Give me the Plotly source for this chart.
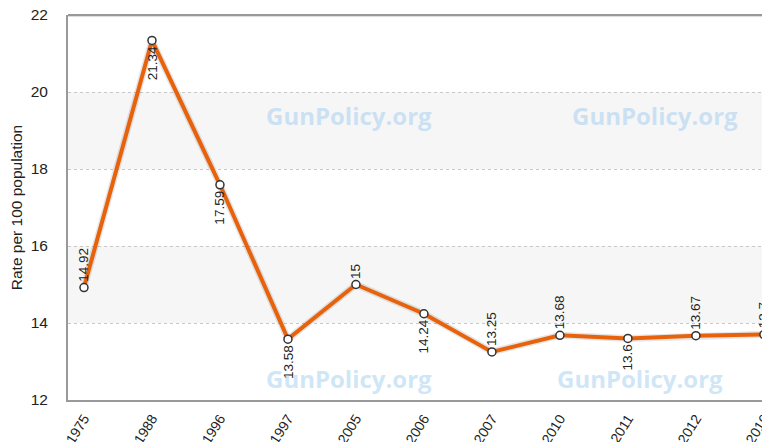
import plotly.graph_objects as go

years = ["1975", "1988", "1996", "1997", "2005", "2006", "2007", "2010", "2011", "2012", "2016"]
rates = [14.92, 21.34, 17.59, 13.58, 15, 14.24, 13.25, 13.68, 13.6, 13.67, 13.7]
label_text = ["14.92", "21.34", "17.59", "13.58", "15", "14.24", "13.25", "13.68", "13.6", "13.67", "13.7"]
label_up = [True, False, False, False, True, False, True, True, False, True, True]

FONT = "Liberation Sans, Arial, sans-serif"
LABEL_SIZE = 13.5


def text_len(s, size):
    # approximate advance width for Arial/Liberation Sans digits
    return sum((0.278 if c == "." else 0.556) for c in s) * size


fig = go.Figure()

# soft shadow under the line
fig.add_trace(go.Scatter(
    x=years, y=rates, mode="lines",
    line=dict(color="rgba(0,0,0,0.10)", width=7),
    hoverinfo="skip", showlegend=False,
))
fig.add_trace(go.Scatter(
    x=years, y=rates, mode="lines+markers",
    line=dict(color="#E8620C", width=4),
    marker=dict(size=8, color="white", line=dict(color="#333333", width=1.5)),
    showlegend=False,
))

annotations = []
for i, (v, t, up) in enumerate(zip(rates, label_text, label_up)):
    off = text_len(t, LABEL_SIZE) / 2 + 6
    annotations.append(dict(
        x=i, y=v, xref="x", yref="y", text=t, showarrow=False,
        textangle=-90, font=dict(family=FONT, size=LABEL_SIZE, color="#222222"),
        xanchor="center", yanchor="middle",
        yshift=off if up else -off,
    ))

wm = dict(family="Open Sans, sans-serif", size=24, color="rgba(160,205,240,0.5)")
for px, py in [(0.40, 0.738), (0.836, 0.738), (0.40, 0.055), (0.815, 0.055)]:
    annotations.append(dict(
        x=px, y=py, xref="paper", yref="paper", text="<b>GunPolicy.org</b>",
        showarrow=False, font=wm, xanchor="center", yanchor="middle",
    ))

shapes = []
for lo, hi in [(14, 16), (18, 20)]:
    shapes.append(dict(type="rect", xref="paper", yref="y", x0=0, x1=1, y0=lo, y1=hi,
                       fillcolor="#f6f6f6", line=dict(width=0), layer="below"))
# top frame line
shapes.append(dict(type="line", xref="paper", yref="paper", x0=0, x1=1, y0=1, y1=1,
                   line=dict(color="#999999", width=2)))
shapes.append(dict(type="line", xref="paper", yref="paper", x0=0, x1=1, y0=0.996, y1=0.996,
                   line=dict(color="#dddddd", width=1)))

# page body has an 8px margin: figure is sized so that it fills the 770x442 window
fig.update_layout(
    width=762, height=434,
    margin=dict(l=60, r=0, t=7, b=42, autoexpand=False),
    paper_bgcolor="white", plot_bgcolor="white",
    font=dict(family=FONT, color="#222222"),
    annotations=annotations, shapes=shapes,
    xaxis=dict(
        type="category", range=[-0.235, 10.09], automargin=False,
        tickangle=-58, tickfont=dict(size=14, color="#222222"),
        showgrid=False, showline=True, linecolor="#999999", linewidth=2,
        ticks="", zeroline=False, ticklabelstandoff=3,
    ),
    yaxis=dict(
        range=[12, 22], tickvals=[12, 14, 16, 18, 20, 22], automargin=False,
        tickfont=dict(size=15.5, color="#222222"),
        showgrid=True, gridcolor="#c8c8c8", griddash="dot", gridwidth=1,
        showline=True, linecolor="#999999", linewidth=2,
        ticks="", ticklabelstandoff=15, zeroline=False, ticklabeloverflow="allow",
        title=dict(text="Rate per 100 population", font=dict(size=15.5, color="#222222"), standoff=8),
    ),
)

fig.write_html("out.html")
